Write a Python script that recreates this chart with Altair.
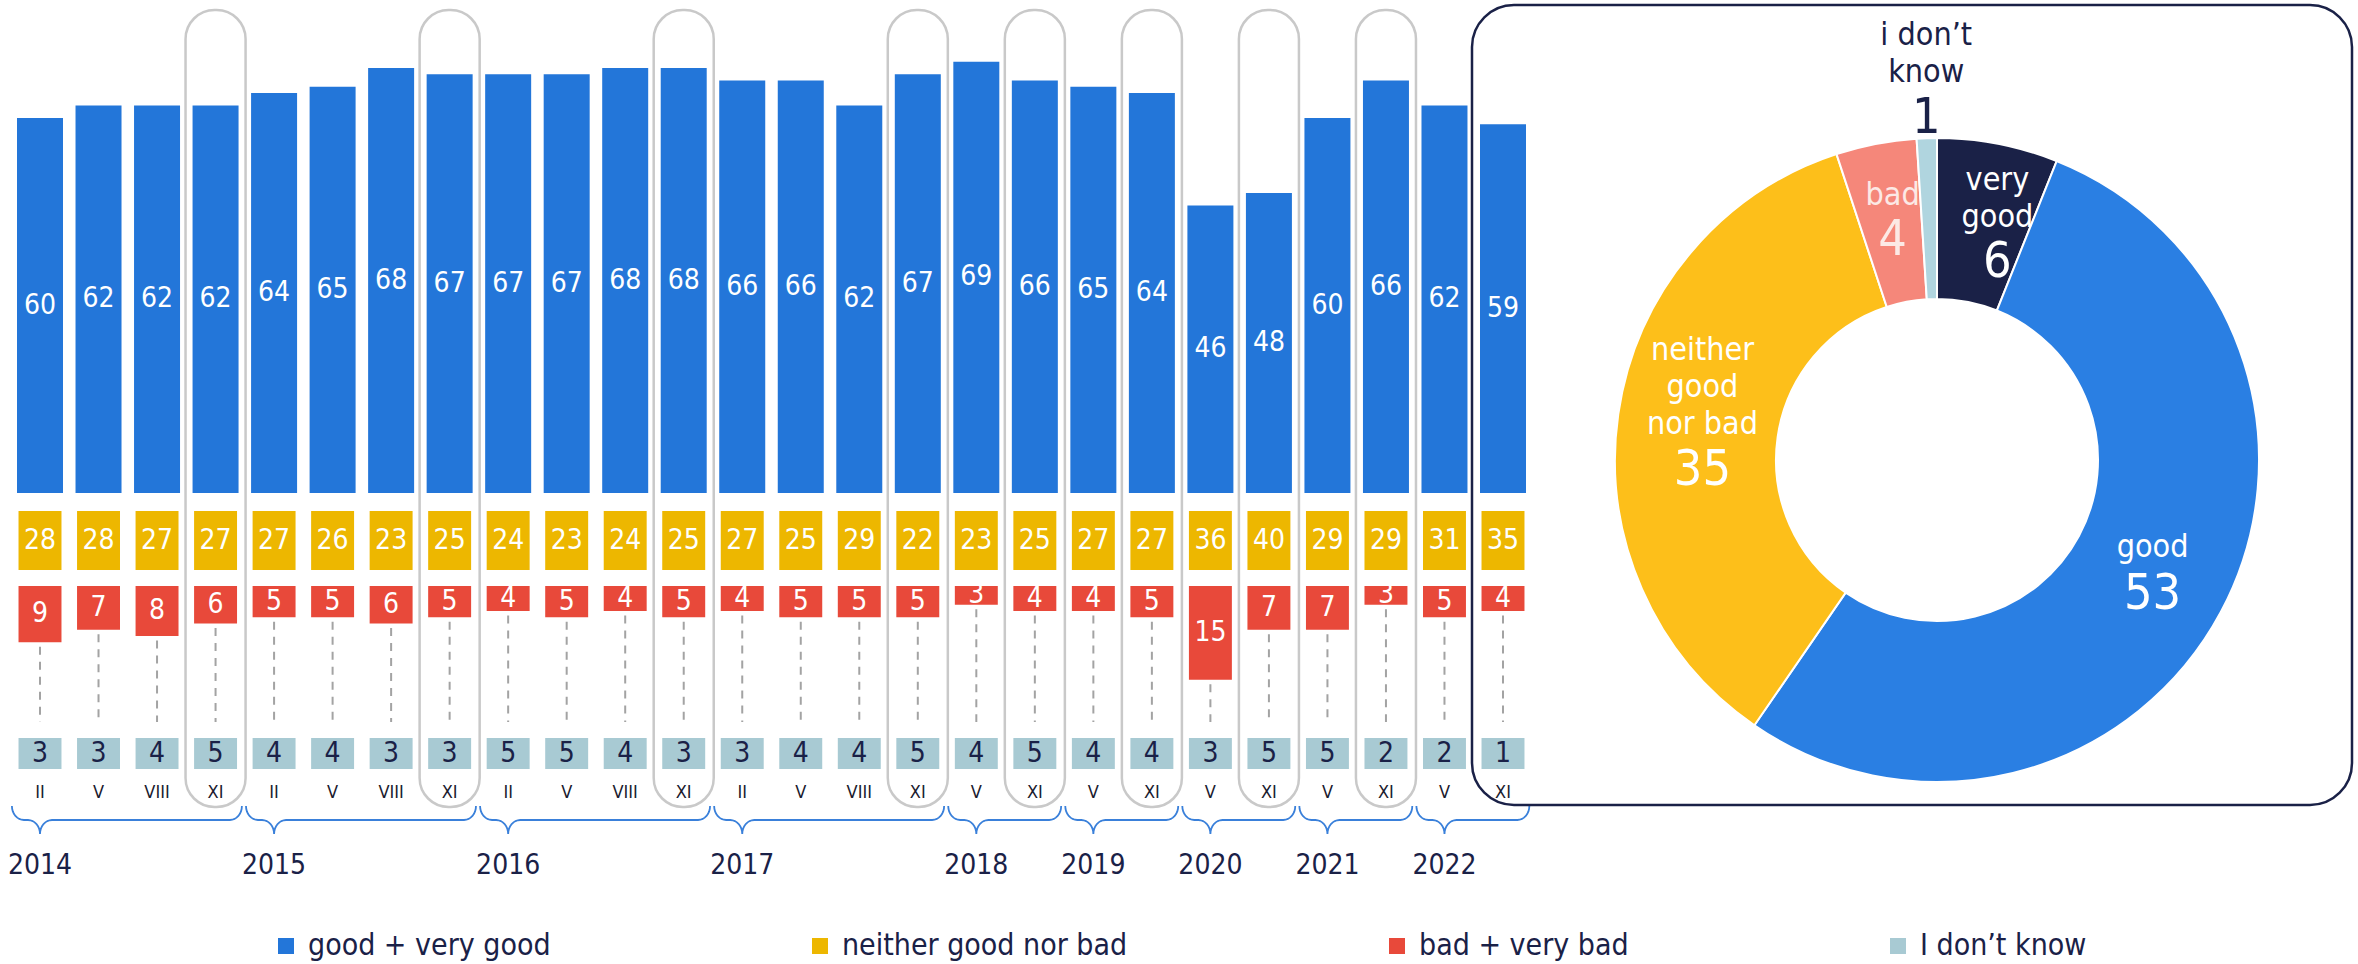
import math
import altair as alt
import pandas as pd

# ---------------- data ----------------
YEARS = ["2014"] * 4 + ["2015"] * 4 + ["2016"] * 4 + ["2017"] * 4 + \
        ["2018"] * 2 + ["2019"] * 2 + ["2020"] * 2 + ["2021"] * 2 + ["2022"] * 2
MONTHS = ["II", "V", "VIII", "XI"] * 4 + ["V", "XI"] * 5
GOOD = [60, 62, 62, 62, 64, 65, 68, 67, 67, 67, 68, 68, 66, 66, 62, 67, 69, 66, 65, 64, 46, 48, 60, 66, 62, 59]
NEITHER = [28, 28, 27, 27, 27, 26, 23, 25, 24, 23, 24, 25, 27, 25, 29, 22, 23, 25, 27, 27, 36, 40, 29, 29, 31, 35]
BAD = [9, 7, 8, 6, 5, 5, 6, 5, 4, 5, 4, 5, 4, 5, 5, 5, 3, 4, 4, 5, 15, 7, 7, 3, 5, 4]
DONT_KNOW = [3, 3, 4, 5, 4, 4, 3, 3, 5, 5, 4, 3, 3, 4, 4, 5, 4, 5, 4, 4, 3, 5, 5, 2, 2, 1]

SERIES = ["good + very good", "neither good nor bad", "bad + very bad", "I don’t know"]

SLICES = ["very good", "good", "neither good nor bad", "bad", "i don’t know"]
SLICE_VALUES = [6, 53, 35, 4, 1]
SLICE_LINES = [["very", "good"], ["good"], ["neither", "good", "nor bad"], ["bad"], ["i don’t", "know"]]

# ---------------- style ----------------
FONT = "Liberation Sans Narrow, DejaVu Sans Condensed, Roboto, sans-serif"
NAVY = "#1A2147"
SERIES_COLORS = ["#2376D9", "#EDB700", "#E8493A", "#A8CAD3"]
SLICE_COLORS = ["#1A2147", "#2A7FE3", "#FDBF1A", "#F5877A", "#B0D5DF"]

W, H = 2358, 964
BASE_PX, PX_PER_UNIT = 493, 6.25
X0, X1 = 40, 1503
STEP = (X1 - X0) / 25


def yu(px):
    return (BASE_PX - px) / PX_PER_UNIT


XS = alt.Scale(domain=[0, 25], range=[X0, X1])
YS = alt.Scale(domain=[yu(H), yu(0)], range=[H, 0], zero=False, nice=False)
RED_TOP = yu(586)

CS = alt.Scale(domain=SERIES, range=SERIES_COLORS)
LEG = alt.Legend(title=None, orient="none", legendX=271, legendY=931, direction="horizontal",
                 symbolType="square", symbolSize=256, symbolStrokeWidth=0,
                 labelFontSize=30, labelFont=FONT, labelColor=NAVY, labelOffset=7,
                 columnPadding=254, padding=0, labelLimit=0)


def xq(f):
    return alt.X(f"{f}:Q", scale=XS, axis=None)


def yq(f):
    return alt.Y(f"{f}:Q", scale=YS, axis=None)


def col(k):
    return alt.Color("series:N", scale=CS, legend=LEG)


df = pd.DataFrame(dict(i=list(range(len(GOOD))), year=YEARS, month=MONTHS, good=GOOD,
                       neither=NEITHER, bad=BAD, dk=DONT_KNOW))

base = alt.Chart(df).transform_calculate(
    bx1="datum.i - 0.393", bx2="datum.i + 0.393",
    sx1="datum.i - 0.367", sx2="datum.i + 0.367",
    ox1="datum.i - 0.513", ox2="datum.i + 0.513",
    good_mid="datum.good / 2",
    red_top=f"{RED_TOP}",
    red_bot=f"{RED_TOP} - datum.bad",
    red_mid=f"{RED_TOP} - datum.bad / 2",
    dash_top=f"{RED_TOP} - datum.bad - 0.7",
)

outlines = base.transform_filter("datum.month == 'XI' && datum.i < 25").mark_rect(
    fill="transparent", stroke="#C9C9C9", strokeWidth=2.5, cornerRadius=29
).encode(x=xq("ox1"), x2="ox2:Q", y=alt.value(10), y2=alt.value(807))

blue = base.transform_calculate(series=f"'{SERIES[0]}'").mark_rect().encode(
    x=xq("bx1"), x2="bx2:Q", y=yq("good"), y2=alt.datum(0), color=col(0))
yellow = base.transform_calculate(series=f"'{SERIES[1]}'").mark_rect().encode(
    x=xq("sx1"), x2="sx2:Q", y=alt.value(511), y2=alt.value(570), color=col(1))
red = base.transform_calculate(series=f"'{SERIES[2]}'").mark_rect().encode(
    x=xq("sx1"), x2="sx2:Q", y=yq("red_top"), y2="red_bot:Q", color=col(2))
dkbox = base.transform_calculate(series=f"'{SERIES[3]}'").mark_rect().encode(
    x=xq("sx1"), x2="sx2:Q", y=alt.value(738), y2=alt.value(769), color=col(3))

dash = base.mark_rule(color="#A3A3A3", strokeWidth=2, strokeDash=[8, 7]).encode(
    x=xq("i"), y=yq("dash_top"), y2=alt.value(722))

txt = dict(font=FONT, fontSize=28, baseline="middle", align="center")
good_t = base.mark_text(color="white", **txt).encode(x=xq("i"), y=yq("good_mid"), text="good:Q")
nei_t = base.mark_text(color="white", **txt).encode(x=xq("i"), y=alt.value(541), text="neither:Q")
bad_t = base.mark_text(color="white", **txt).encode(x=xq("i"), y=yq("red_mid"), text="bad:Q")
dk_t = base.mark_text(color=NAVY, **txt).encode(x=xq("i"), y=alt.value(754), text="dk:Q")
month_t = base.mark_text(color="#1A1A2E", font=FONT, fontSize=18, baseline="middle").encode(
    x=xq("i"), y=alt.value(793), text="month:N")

# braces under each year group
groups = []
for yy in dict.fromkeys(YEARS):
    idx = [k for k, v in enumerate(YEARS) if v == yy]
    groups.append((yy, idx[0], idx[-1]))

rows = []
rx, ry = 12 / STEP, 14
N = 9
for yy, f, l in groups:
    xl, xr, xc = f - 0.48, l + 0.45, f
    pts = []
    for j in range(N):
        t = j / (N - 1) * math.pi / 2
        pts.append((xl + rx * (1 - math.cos(t)), 806 + ry * math.sin(t)))
    for j in range(N):
        t = j / (N - 1) * math.pi / 2
        pts.append((xc - rx + rx * math.sin(t), 834 - ry * math.cos(t)))
    for j in range(N):
        t = (N - 1 - j) / (N - 1) * math.pi / 2
        pts.append((xc + rx - rx * math.sin(t), 834 - ry * math.cos(t)))
    for j in range(N):
        t = j / (N - 1) * math.pi / 2
        pts.append((xr - rx + rx * math.sin(t), 806 + ry * math.cos(t)))
    for k, (px, py) in enumerate(pts):
        rows.append(dict(year=yy, k=k, bx=px, by=yu(py)))
brace_df = pd.DataFrame(rows)
braces = alt.Chart(brace_df).mark_line(color="#3A80DA", strokeWidth=1.8).encode(
    x=xq("bx"), y=yq("by"), detail="year:N", order="k:Q")

year_df = pd.DataFrame(dict(year=[g[0] for g in groups], f=[g[1] for g in groups]))
year_t = alt.Chart(year_df).mark_text(font=FONT, fontSize=28, color=NAVY, baseline="middle").encode(
    x=xq("f"), y=alt.value(866), text="year:N")

bars = alt.layer(outlines, blue, yellow, red, dkbox, dash, good_t, nei_t, bad_t, dk_t,
                 month_t, braces, year_t)

# ---------------- donut ----------------
CX, CY = 1937, 460
donut_df = pd.DataFrame(dict(slice=SLICES, value=SLICE_VALUES, ord=list(range(len(SLICES)))))
dbase = alt.Chart(donut_df).encode(
    theta=alt.Theta("value:Q", stack=True),
    order=alt.Order("ord:Q"),
    x=alt.value(CX), y=alt.value(CY),
)
arc = dbase.mark_arc(radius=322, radius2=161, stroke="white", strokeWidth=2).encode(
    color=alt.Color("slice:N", scale=alt.Scale(domain=SLICES, range=SLICE_COLORS), legend=None))

# label placement per slice: radius, dx, dy of name block, dy of number, colour
LABEL_STYLE = {
    "very good": (240, 15, -44, 38, "white"),
    "good": (240, 4, -26, 21, "white"),
    "neither good nor bad": (240, 3, -76, 44, "white"),
    "bad": (240, 1, -29, 16, "#FCE9E5"),
    "i don’t know": (340, 0, -85, -2, NAVY),
}
dlayers = [arc]
for s, lines in zip(SLICES, SLICE_LINES):
    r, dx, dyn, dyv, c = LABEL_STYLE[s]
    test = f"datum.slice == '{s}'"
    dlayers.append(dbase.mark_text(radius=r, dx=dx, dy=dyn, font=FONT, fontSize=32, lineHeight=37,
                                   color=c, baseline="middle", align="center").encode(
        text=alt.condition(test, alt.value(lines), alt.value(""))))
    dlayers.append(dbase.mark_text(radius=r, dx=dx, dy=dyv, font=FONT, fontSize=50,
                                   color=c, baseline="middle", align="center").encode(
        text=alt.condition(test, alt.Text("value:Q"), alt.value(""))))
donut = alt.layer(*dlayers)

navy_box = alt.Chart(pd.DataFrame(dict(k=[0]))).mark_rect(
    fill="transparent", stroke=NAVY, strokeWidth=2.5, cornerRadius=42
).encode(x=alt.value(1472), x2=alt.value(2352), y=alt.value(5), y2=alt.value(805))

chart = alt.layer(bars, donut, navy_box).resolve_scale(color="independent").properties(
    width=W, height=H, autosize=alt.AutoSizeParams(type="none"), padding=0, background="white"
).configure_view(strokeWidth=0)

chart.save("out.html", embed_options={"renderer": "svg", "actions": False})
